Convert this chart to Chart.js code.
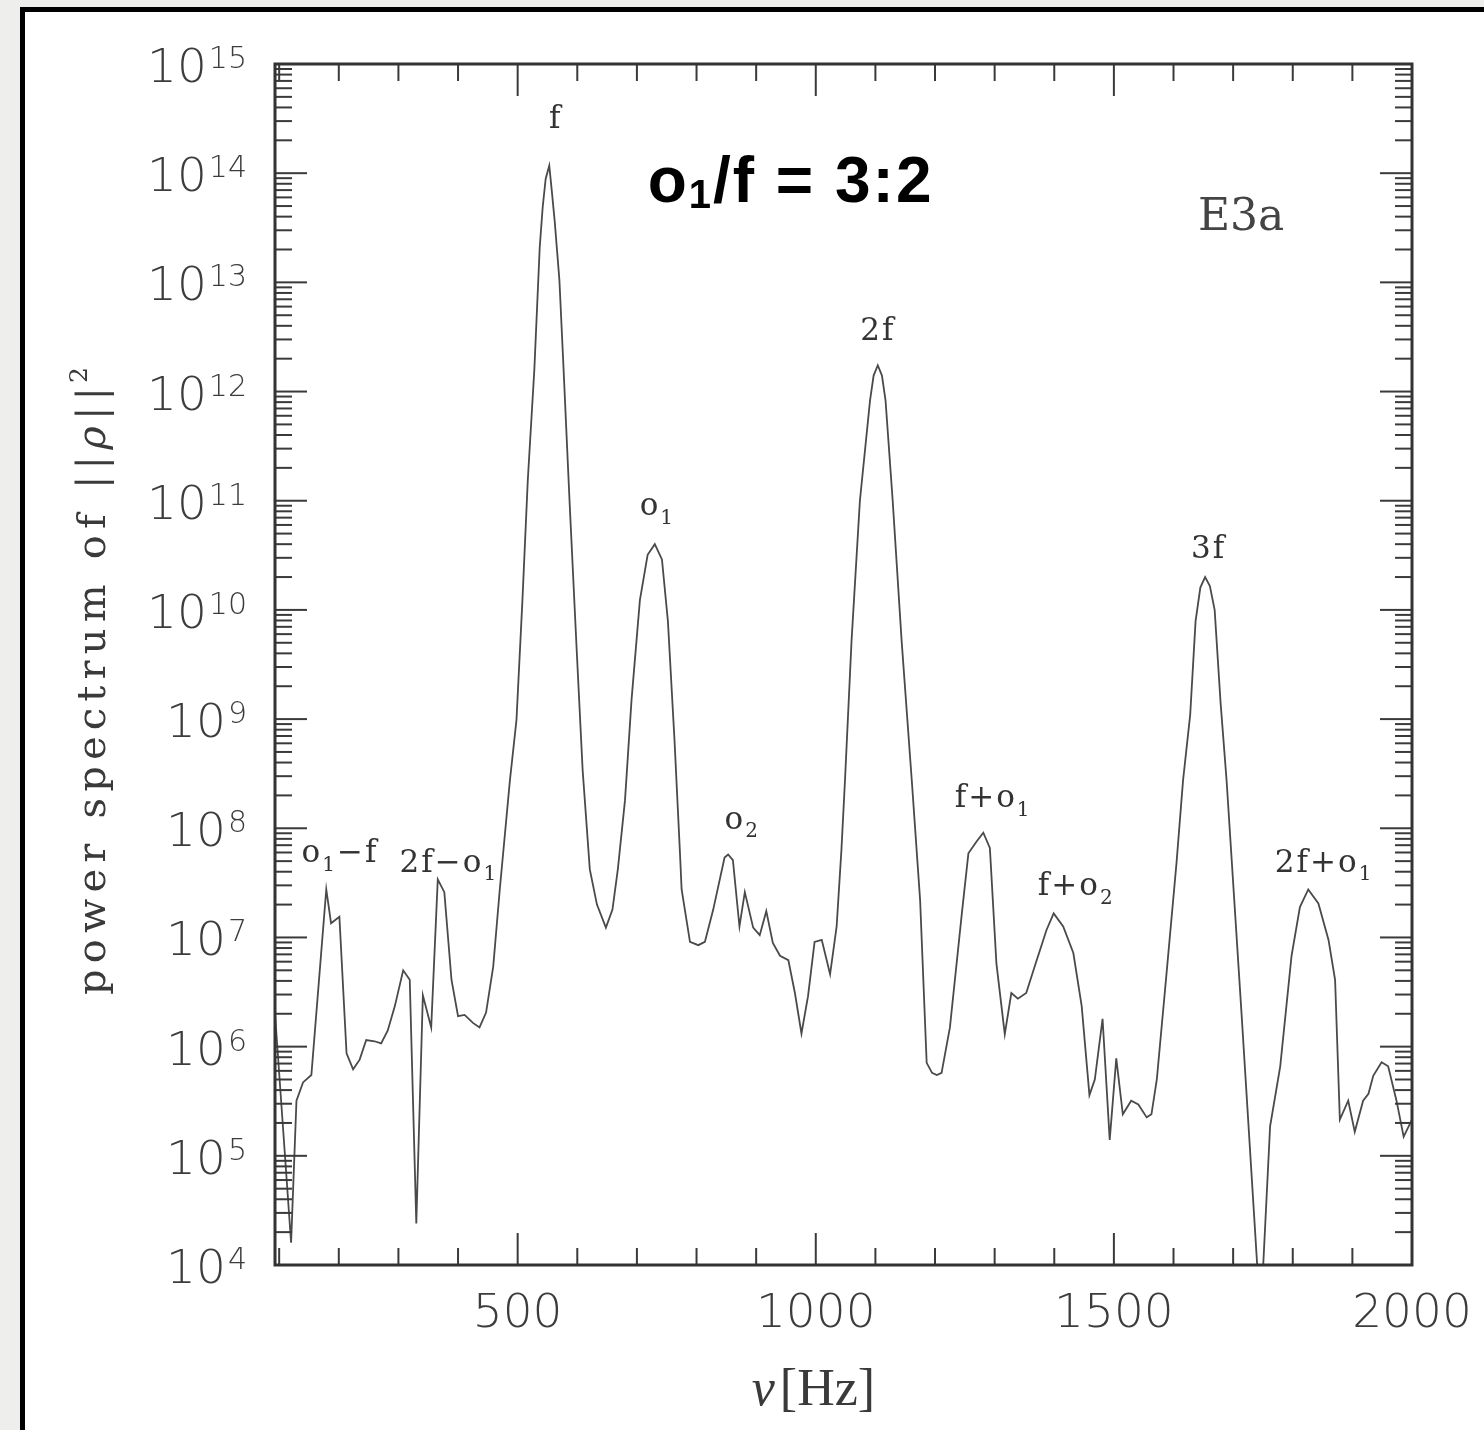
<!DOCTYPE html>
<html><head><meta charset="utf-8">
<script src="https://cdn.jsdelivr.net/npm/chart.js@4.4.1/dist/chart.umd.min.js"></script>
<style>
html,body{margin:0;padding:0;width:1484px;height:1430px;overflow:hidden;background:#eeeeec;}
#frame{position:absolute;left:20px;top:7px;width:1500px;height:1460px;border-left:5px solid #000;border-top:5px solid #000;background:#fff;}
#c{position:absolute;left:0;top:0;}
</style></head><body>
<div id="frame"></div>
<canvas id="c" width="1484" height="1430"></canvas>
<script>
// ---- data ----
const freqHz = [93,120,129,140,154,179,187,201,213,224,235,246,260,271,282,294,308,319,330,341,355,366,377,389,400,411,425,436,447,459,470,487,498,508,517,528,537,542,547,553,557,562,570,577,587,599,609,621,633,648,659,668,680,691,705,718,730,742,752,763,772,775,789,803,814,828,847,853,861,872,881,895,906,917,928,940,954,965,976,987,998,1010,1024,1035,1043,1049,1060,1074,1091,1097,1104,1111,1117,1129,1144,1161,1175,1186,1195,1203,1211,1225,1245,1256,1270,1281,1292,1303,1317,1328,1339,1353,1367,1387,1399,1415,1432,1446,1459,1468,1481,1493,1504,1515,1529,1541,1555,1563,1572,1588,1605,1616,1628,1637,1645,1653,1661,1669,1679,1689,1714,1746,1762,1779,1798,1812,1826,1843,1860,1871,1879,1893,1904,1918,1927,1935,1949,1960,1974,1986,2000];
const power = [2.0e6,1.6e4,3.2e5,4.7e5,5.5e5,2.75e7,1.35e7,1.55e7,8.7e5,6.2e5,7.6e5,1.15e6,1.12e6,1.07e6,1.4e6,2.35e6,5.0e6,4.1e6,2.4e4,2.95e6,1.5e6,3.4e7,2.6e7,4.1e6,1.9e6,1.95e6,1.65e6,1.5e6,2.05e6,5.4e6,2.75e7,2.75e8,9.8e8,1.23e10,1.55e11,1.6e12,2.1e13,4.9e13,8.9e13,1.17e14,7.1e13,3.7e13,1.05e13,1.6e12,1.0e11,4.3e9,3.4e8,4.2e7,2.0e7,1.23e7,1.8e7,4.2e7,1.8e8,1.5e9,1.23e10,3.2e10,4.0e10,2.9e10,7.9e9,6.5e8,6.3e7,2.75e7,9.1e6,8.5e6,9.1e6,1.8e7,5.4e7,5.75e7,5.1e7,1.26e7,2.6e7,1.23e7,1.05e7,1.74e7,8.9e6,6.8e6,6.2e6,3.1e6,1.32e6,2.9e6,9.1e6,9.5e6,4.6e6,1.26e7,6.3e7,2.75e8,5.2e9,1.0e11,8.3e11,1.4e12,1.74e12,1.4e12,8.3e11,1.0e11,5.2e9,2.75e8,2.2e7,7.1e5,5.75e5,5.5e5,5.75e5,1.5e6,1.66e7,5.9e7,7.6e7,9.1e7,6.6e7,5.75e6,1.3e6,3.1e6,2.75e6,3.1e6,5.4e6,1.17e7,1.66e7,1.26e7,7.2e6,2.35e6,3.6e5,5.0e5,1.8e6,1.4e5,7.8e5,2.4e5,3.2e5,2.95e5,2.25e5,2.4e5,5.0e5,4.5e6,4.8e7,2.75e8,1.1e9,7.9e9,1.6e10,2.0e10,1.65e10,1.0e10,1.4e9,2.75e8,2.05e6,3.2e3,1.86e5,6.6e5,6.8e6,1.9e7,2.75e7,2.05e7,9.5e6,4.1e6,2.15e5,3.2e5,1.66e5,3.2e5,3.7e5,5.4e5,7.2e5,6.6e5,3.2e5,1.5e5,2.15e5];

const xTickLabels = [500, 1000, 1500, 2000];
const xMinorTicks = [100,200,300,400,500,600,700,800,900,1000,1100,1200,1300,1400,1500,1600,1700,1800,1900,2000];
const yDecadeExponents = [4,5,6,7,8,9,10,11,12,13,14,15];
const xTitleSymbol = 'ν';
const xTitleUnit = '[Hz]';
const yTitleParts = ['power spectrum of ||', 'ρ', '||'];
const yTitleExponent = '2';
// peak labels: text ("_" marks a subscript char), anchor frequency, anchor power
const peakLabelText = ['f', '2f', '3f', 'o_1', 'o_2', 'f+o_1', 'f+o_2', 'o_1−f', '2f−o_1', '2f+o_1'];
const peakLabelHz   = [563.8, 1104, 1659, 704.7, 847, 1233, 1372.5, 137.6, 302, 1770];
const peakLabelPow  = [2.6e14, 2.97e12, 3.0e10, 7.4e10, 9.9e7, 1.57e8, 2.45e7, 4.9e7, 4.0e7, 4.0e7];
const peakLabelAlign = ['center','center','center','left','left','left','left','left','left','left'];
const runLabel = 'E3a';
const ratioLabel = 'o_1/f = 3:2';

// ---- helpers ----
function parseRich(str){
  const segs=[]; let i=0;
  while(i<str.length){
    if(str[i]==='_'){ segs.push({t:str[i+1],sub:true}); i+=2; }
    else { let j=i; let s=''; while(j<str.length && str[j]!=='_'){ s+=str[j]; j++; } segs.push({t:s,sub:false}); i=j; }
  }
  return segs;
}
function drawRich(ctx,str,x,y,size,fam,weight,align,color,spacing,subScale,subDrop){
  const segs=parseRich(str);
  ctx.letterSpacing = (spacing||0)+'px';
  let total=0;
  segs.forEach(s=>{ ctx.font = weight+' '+(s.sub?Math.round(size*subScale):size)+'px '+fam; s.w=ctx.measureText(s.t).width; total+=s.w; });
  let cx = align==='center'? x-total/2 : x;
  ctx.fillStyle=color; ctx.textAlign='left'; ctx.textBaseline='alphabetic';
  segs.forEach(s=>{ ctx.font = weight+' '+(s.sub?Math.round(size*subScale):size)+'px '+fam; ctx.fillText(s.t,cx,s.sub?y+size*subDrop:y); cx+=s.w; });
  ctx.letterSpacing='0px';
}

const decor = {
  id:'decor',
  afterDatasetsDraw(chart){
    const {ctx, chartArea:a, scales:{x,y}} = chart;
    ctx.save();
    ctx.strokeStyle='#3a3a3a'; ctx.lineWidth=2;
    const seg=(x1,y1,x2,y2)=>{ctx.beginPath();ctx.moveTo(x1,y1);ctx.lineTo(x2,y2);ctx.stroke();};
    xMinorTicks.forEach(v=>{
      const px=x.getPixelForValue(v); const L = xTickLabels.includes(v)?32:17;
      seg(px,a.bottom,px,a.bottom-L); seg(px,a.top,px,a.top+L);
    });
    yDecadeExponents.forEach((d,k)=>{
      const py=y.getPixelForValue(Math.pow(10,d));
      seg(a.left,py,a.left+32,py); seg(a.right,py,a.right-32,py);
      if(k<yDecadeExponents.length-1){
        for(let m=2;m<=9;m++){ const pm=y.getPixelForValue(m*Math.pow(10,d)); seg(a.left,pm,a.left+17,pm); seg(a.right,pm,a.right-17,pm); }
      }
    });
    ctx.lineWidth=3; ctx.strokeStyle='#333';
    ctx.strokeRect(a.left,a.top,a.right-a.left,a.bottom-a.top);

    // x tick labels
    ctx.fillStyle='#3c3c3c'; ctx.textAlign='center'; ctx.textBaseline='alphabetic';
    ctx.font='200 47px "DejaVu Sans"';
    xTickLabels.forEach(v=>{ ctx.fillText(String(v), x.getPixelForValue(v), a.bottom+62); });
    // y tick labels 10^n
    yDecadeExponents.forEach(d=>{
      const py=y.getPixelForValue(Math.pow(10,d));
      const right=a.left-28;
      ctx.textAlign='right';
      ctx.font='200 30px "DejaVu Sans"';
      const ew=ctx.measureText(String(d)).width;
      ctx.fillText(String(d), right, py+4);
      ctx.font='200 47px "DejaVu Sans"';
      ctx.fillText('10', right-ew-2, py+18);
    });
    // x title
    ctx.textAlign='left'; ctx.fillStyle='#3a3a3a';
    ctx.font='italic 52px "Liberation Serif"';
    const w1=ctx.measureText(xTitleSymbol).width;
    const startX = x.getPixelForValue(1000) - 64;
    ctx.fillText(xTitleSymbol, startX, a.bottom+140);
    ctx.font='52px "Liberation Serif"';
    ctx.fillText(xTitleUnit, startX+w1+5, a.bottom+140);

    // y title (rotated), drawn glyph by glyph to match the wide spacing
    ctx.save();
    ctx.translate(105, 995);
    ctx.rotate(-Math.PI/2);
    ctx.fillStyle='#3a3a3a'; ctx.textAlign='left';
    const fonts=['40px "DejaVu Serif"','italic 40px "DejaVu Serif"','40px "DejaVu Serif"'];
    let nat=0, n=0;
    yTitleParts.forEach((p,i)=>{ ctx.font=fonts[i]; for(const ch of p){ nat+=ctx.measureText(ch).width; n++; } });
    const target=608;
    const sp=(target-nat)/(n-1);
    let tx=0;
    yTitleParts.forEach((p,i)=>{ ctx.font=fonts[i]; for(const ch of p){ ctx.fillText(ch,tx,0); tx+=ctx.measureText(ch).width+sp; } });
    ctx.font='25px "DejaVu Serif"';
    ctx.fillText(yTitleExponent, tx-sp+4, -18);
    ctx.restore();

    // peak labels
    peakLabelText.forEach((t,i)=>{
      drawRich(ctx,t,x.getPixelForValue(peakLabelHz[i]),y.getPixelForValue(peakLabelPow[i]),31,'"DejaVu Serif"','normal',peakLabelAlign[i],'#333',2,0.65,0.28);
    });
    drawRich(ctx,runLabel,x.getPixelForValue(1641),y.getPixelForValue(3.0e13),44,'"DejaVu Serif"','normal','left','#444',0,0.65,0.3);
    drawRich(ctx,ratioLabel,x.getPixelForValue(718),y.getPixelForValue(5.4e13),64,'"Liberation Sans"','bold','left','#000',2,0.62,0.09);
    ctx.restore();
  }
};

new Chart(document.getElementById('c').getContext('2d'), {
  type:'line',
  data:{datasets:[{
    data: freqHz.map((f,i)=>({x:f, y:power[i]})),
    borderColor:'#4a4a4a', borderWidth:1.8, pointRadius:0, tension:0, fill:false
  }]},
  options:{
    responsive:false, animation:false, devicePixelRatio:1,
    layout:{padding:{left:275, top:64, right:72, bottom:165}},
    plugins:{legend:{display:false}, tooltip:{enabled:false}, title:{display:false}},
    scales:{
      x:{type:'linear', min:93, max:2000, ticks:{display:false}, grid:{display:false, drawTicks:false}, border:{display:false}},
      y:{type:'logarithmic', min:1e4, max:1e15, ticks:{display:false}, grid:{display:false, drawTicks:false}, border:{display:false}}
    }
  },
  plugins:[decor]
});
</script></body></html>
